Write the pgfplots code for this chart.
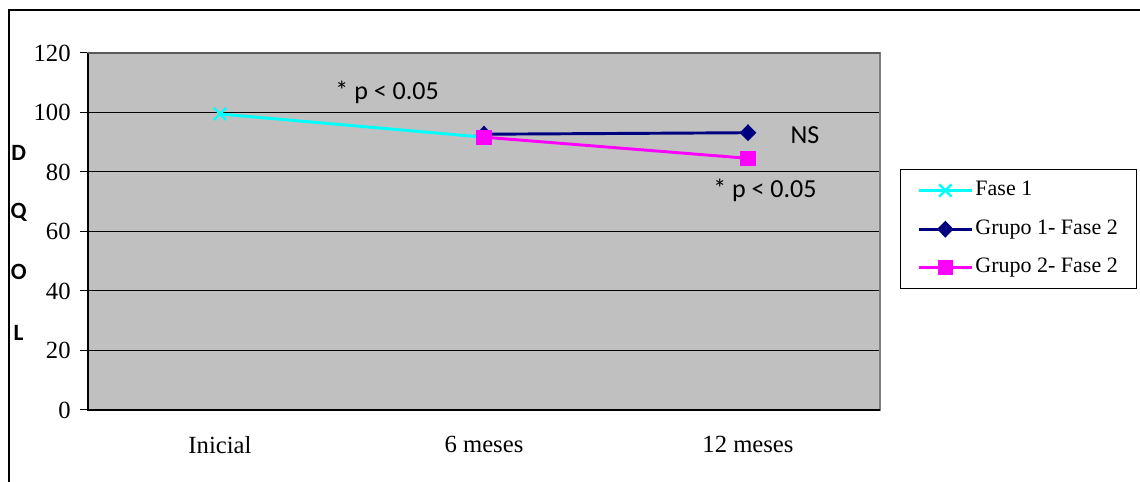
\documentclass[border=0pt]{standalone}
\usepackage{fontspec}
\setmainfont{Liberation Serif}
\newfontfamily\calib{Carlito}
\usepackage{pgfplots}
\pgfplotsset{compat=1.18}
\definecolor{plotbg}{RGB}{192,192,192}
\definecolor{fase}{RGB}{0,255,255}
\definecolor{grupoa}{RGB}{0,0,128}
\definecolor{grupob}{RGB}{255,0,255}
\definecolor{boxgray}{RGB}{128,128,128}

\begin{document}
\begin{tikzpicture}[x=1pt,y=1pt]
\useasboundingbox (0,0) rectangle (855,361.5);
% outer chart frame
\draw[black, line width=0.8pt] (6.75,0) -- (6.75,354) -- (855,354);
\begin{axis}[
  at={(66pt,54pt)}, anchor=south west,
  scale only axis, width=594pt, height=267.75pt,
  xmin=0.5, xmax=3.5, ymin=0, ymax=120,
  xtick={1,2,3}, xticklabels={Inicial,6 meses,12 meses},
  x tick style={draw=none},
  extra x ticks={0.5,1.5,2.5,3.5}, extra x tick labels={},
  extra x tick style={grid=none, tick style={draw=black, line width=0.75pt}},
  ytick={0,20,...,120},
  y tick style={draw=black, line width=0.75pt},
  tick align=outside, tick pos=left, major tick length=6pt,
  ymajorgrids, grid style={black, line width=0.75pt},
  axis line style={draw=boxgray, line width=1.2pt},
  axis background/.style={fill=plotbg},
  /pgf/number format/assume math mode=true,
  tick label style={font=\fontsize{18.5}{21}\selectfont},
  xticklabel style={yshift=-10pt},
  yticklabel style={xshift=-3.5pt},
  clip=false,
  legend style={at={(rel axis cs:1.0253,0.675)}, anchor=north west,
    draw=black, line width=0.75pt, fill=white,
    font=\fontsize{16.5}{19}\selectfont,
    inner xsep=12.5pt, inner ysep=8.5pt, row sep=14.5pt,
    nodes={text height=11pt, text depth=3.5pt, inner ysep=0pt, inner xsep=1.5pt}},
  legend cell align=left,
  legend image code/.code={
    \draw[mark repeat=2,mark phase=2,#1] plot coordinates {(0pt,0pt) (20pt,0pt) (40pt,0pt)};
  },
]
\addplot[fase, line width=2.2pt, mark=x, mark size=6.5pt,
  mark options={line width=1.8pt}] coordinates {(1,99.5) (2,91.7)};
\addlegendentry{Fase 1}
\addplot[grupoa, line width=2.2pt, mark=diamond*, mark size=4.8pt,
  mark options={xscale=1.3}] coordinates {(2,92.7) (3,93.2)};
\addlegendentry{Grupo 1- Fase 2}
\addplot[grupob, line width=2.2pt, mark=square*, mark size=4.6pt] coordinates {(2,91.7) (3,84.6)};
\addlegendentry{Grupo 2- Fase 2}
% significance notes
\node[font=\calib\fontsize{19.5}{22}\selectfont] at (axis cs:1.633,106.6) {* p < 0.05};
\node[font=\calib\fontsize{19.5}{22}\selectfont] at (axis cs:3.216,92.4) {NS};
\node[font=\calib\fontsize{19.5}{22}\selectfont] at (axis cs:3.064,73.9) {* p < 0.05};
% plot area edges
\draw[black, line width=1pt] (rel axis cs:0,1) -- (rel axis cs:0,0) -- (rel axis cs:1,0);
\draw[boxgray!70!black, line width=1.2pt] (rel axis cs:0,1) -- (rel axis cs:1,1);
\end{axis}
% vertical axis title, one letter per line
\foreach \c/\yy in {D/246.75, Q/202.5, O/157.5, L/111.75}
  \node[font=\calib\bfseries\fontsize{17.5}{20}\selectfont] at (14,\yy) {\c};
\end{tikzpicture}
\end{document}
